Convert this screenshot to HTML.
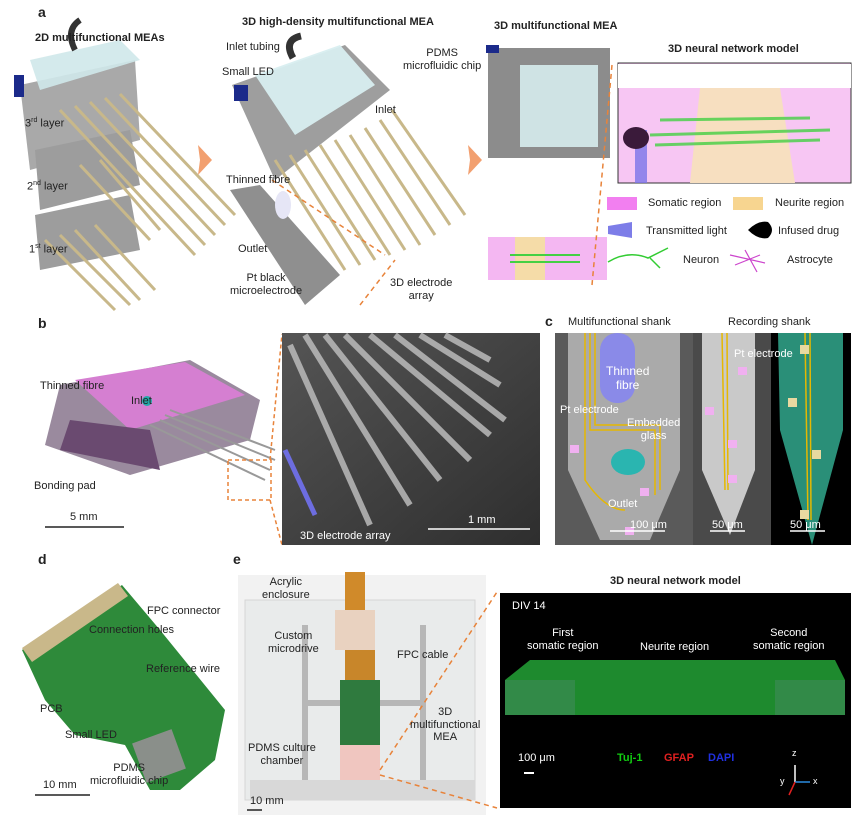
<!DOCTYPE html>
<html><head><meta charset="utf-8"><style>
body{margin:0;background:#fff;}
#r{position:relative;width:859px;height:819px;overflow:hidden;font-family:"Liberation Sans",Arial,sans-serif;color:#222;}
.t{position:absolute;font-size:11px;white-space:nowrap;line-height:1.15;}
.b{font-weight:bold;}
.L{position:absolute;font-weight:bold;font-size:14px;}
</style></head><body><div id="r">
<svg width="859" height="819" style="position:absolute;left:0;top:0">
<defs>
<linearGradient id="sh" x1="0" x2="1"><stop offset="0" stop-color="#8a7a5a"/><stop offset=".5" stop-color="#d8c9a0"/><stop offset="1" stop-color="#8a7a5a"/></linearGradient>
<linearGradient id="sem" x1="0" y1="0" x2="1" y2="1"><stop offset="0" stop-color="#555"/><stop offset="1" stop-color="#2e2e2e"/></linearGradient>
</defs>
<g>
<polygon points="20,85 135,60 140,140 30,170" fill="#a9a9a9"/>
<polygon points="30,60 120,40 140,60 40,90" fill="#cfe8ea" opacity=".9"/>
<rect x="14" y="75" width="10" height="22" fill="#1b2a8a"/>
<polygon points="35,150 130,130 140,185 40,210" fill="#9d9d9d"/>
<polygon points="35,215 130,195 140,250 40,270" fill="#9d9d9d"/>
<g stroke="#c8b88a" stroke-width="3">
<line x1="60" y1="110" x2="195" y2="255"/><line x1="75" y1="106" x2="205" y2="245"/><line x1="90" y1="102" x2="215" y2="235"/><line x1="105" y1="98" x2="225" y2="225"/><line x1="120" y1="94" x2="235" y2="215"/>
<line x1="45" y1="240" x2="115" y2="310"/><line x1="60" y1="235" x2="130" y2="305"/><line x1="75" y1="230" x2="140" y2="300"/><line x1="95" y1="225" x2="155" y2="290"/>
<line x1="80" y1="165" x2="150" y2="240"/><line x1="100" y1="160" x2="160" y2="230"/>
</g>
<path d="M75 50 q-10 -20 5 -30" stroke="#333" stroke-width="6" fill="none"/>
</g>
<polygon points="198,145 212,160 198,175 200,160" fill="#f2a070"/>
<g>
<polygon points="232,85 345,45 390,90 275,180" fill="#9e9e9e"/>
<polygon points="255,75 340,45 375,85 295,135" fill="#d8eef0" opacity=".95"/>
<rect x="234" y="85" width="14" height="16" fill="#1b2a8a"/>
<g stroke="#c8b88a" stroke-width="3">
<line x1="275" y1="160" x2="345" y2="270"/><line x1="290" y1="155" x2="360" y2="265"/><line x1="305" y1="150" x2="375" y2="260"/><line x1="320" y1="145" x2="390" y2="255"/><line x1="335" y1="140" x2="405" y2="250"/><line x1="350" y1="135" x2="420" y2="245"/><line x1="365" y1="128" x2="435" y2="235"/><line x1="380" y1="120" x2="450" y2="225"/><line x1="392" y1="110" x2="465" y2="215"/>
</g>
<path d="M293 58 q-10 -18 8 -22" stroke="#333" stroke-width="7" fill="none"/>
<polygon points="230,190 260,185 340,275 305,305" fill="#8f8f8f"/>
<ellipse cx="283" cy="205" rx="8" ry="14" fill="#e6e6f6"/>
</g>
<polygon points="468,145 482,160 468,175 470,160" fill="#f2a070"/>
<line x1="272" y1="180" x2="385" y2="255" stroke="#e8833a" stroke-dasharray="5,4" stroke-width="1.5"/>
<line x1="360" y1="305" x2="395" y2="260" stroke="#e8833a" stroke-dasharray="5,4" stroke-width="1.5"/>
<rect x="488" y="48" width="122" height="110" fill="#8c8c8c"/>
<rect x="520" y="65" width="78" height="82" fill="#cfe3e4"/>
<rect x="486" y="45" width="13" height="8" fill="#1b2a8a"/>
<rect x="488" y="237" width="27" height="43" fill="#f4b7f2"/><rect x="515" y="237" width="30" height="43" fill="#f5dca8"/><rect x="545" y="237" width="62" height="43" fill="#f4b7f2"/>
<g stroke="url(#sh)" stroke-width="5" opacity=".9"><line x1="505" y1="158" x2="505" y2="270"/><line x1="520" y1="158" x2="520" y2="270"/><line x1="535" y1="158" x2="535" y2="270"/><line x1="550" y1="158" x2="550" y2="270"/><line x1="565" y1="158" x2="565" y2="270"/><line x1="580" y1="158" x2="580" y2="270"/></g>
<g stroke="#44d044" stroke-width="2"><line x1="510" y1="255" x2="580" y2="255"/><line x1="510" y1="262" x2="580" y2="262"/></g>
<line x1="612" y1="65" x2="592" y2="285" stroke="#e8833a" stroke-dasharray="5,4" stroke-width="1.5"/>
<rect x="618" y="63" width="233" height="120" fill="#f7c6f3" stroke="#333"/>
<rect x="618" y="64" width="233" height="24" fill="#fff"/>
<polygon points="700,88 780,88 795,183 690,183" fill="#f7dfc0"/>
<g stroke="url(#sh)" stroke-width="6"><line x1="637" y1="64" x2="637" y2="145"/><line x1="660" y1="64" x2="660" y2="150"/><line x1="678" y1="64" x2="678" y2="150"/><line x1="715" y1="64" x2="715" y2="155"/><line x1="750" y1="64" x2="750" y2="155"/><line x1="775" y1="64" x2="775" y2="150"/><line x1="795" y1="64" x2="795" y2="150"/><line x1="812" y1="64" x2="812" y2="145"/><line x1="833" y1="64" x2="833" y2="150"/></g>
<rect x="635" y="130" width="12" height="53" fill="#7a74e8" opacity=".8"/>
<ellipse cx="636" cy="138" rx="13" ry="11" fill="#3a1a3a"/>
<g stroke="#44d044" stroke-width="3" opacity=".8"><line x1="650" y1="135" x2="830" y2="130"/><line x1="655" y1="145" x2="820" y2="140"/><line x1="660" y1="120" x2="810" y2="118"/></g>
<rect x="607" y="197" width="30" height="13" fill="#f27ff0"/><rect x="733" y="197" width="30" height="13" fill="#f7d590"/>
<polygon points="608,226 632,222 632,238 608,234" fill="#7d7de8"/>
<path d="M748 230 q10 -10 20 -8 q8 8 0 16 q-10 2 -20 -8z" fill="#000"/>
<path d="M608 262 q20 -12 40 -4 q10 -5 20 -10 M650 258 l10 10" stroke="#3c3" stroke-width="1.5" fill="none"/>
<path d="M735 265 l25 -10 M745 250 l12 22 M730 255 l35 8" stroke="#c4c" stroke-width="1.2" fill="none"/>
<polygon points="60,385 190,360 260,400 250,440 130,475 45,445" fill="#9a8a9e"/>
<polygon points="75,380 185,362 245,395 130,430" fill="#d57fd1"/>
<polygon points="70,420 150,430 160,470 60,450" fill="#6a4a70"/>
<g stroke="#999" stroke-width="2"><line x1="160" y1="420" x2="270" y2="470"/><line x1="165" y1="415" x2="275" y2="460"/><line x1="170" y1="410" x2="275" y2="450"/><line x1="150" y1="425" x2="265" y2="480"/></g>
<circle cx="147" cy="401" r="5" fill="#2aa"/>
<rect x="228" y="460" width="43" height="40" fill="none" stroke="#e8833a" stroke-dasharray="4,3" stroke-width="1.5"/>
<line x1="270" y1="460" x2="282" y2="334" stroke="#e8833a" stroke-dasharray="4,3" stroke-width="1.5"/>
<line x1="270" y1="500" x2="282" y2="545" stroke="#e8833a" stroke-dasharray="4,3" stroke-width="1.5"/>
<line x1="45" y1="527" x2="124" y2="527" stroke="#222" stroke-width="1.5"/>
<rect x="282" y="333" width="258" height="212" fill="url(#sem)"/>
<g stroke="#bbb" stroke-width="6" opacity=".85"><line x1="290" y1="345" x2="370" y2="525"/><line x1="305" y1="335" x2="410" y2="505"/><line x1="325" y1="335" x2="440" y2="480"/><line x1="345" y1="335" x2="470" y2="460"/><line x1="370" y1="335" x2="490" y2="435"/><line x1="395" y1="335" x2="505" y2="420"/><line x1="420" y1="335" x2="500" y2="385"/><line x1="445" y1="335" x2="490" y2="360"/></g>
<line x1="285" y1="450" x2="315" y2="515" stroke="#6d6de0" stroke-width="5"/>
<line x1="428" y1="529" x2="530" y2="529" stroke="#fff" stroke-width="1.5"/>
<rect x="555" y="333" width="138" height="212" fill="#5a5a5a"/>
<polygon points="568,333 680,333 680,470 650,540 600,540 568,470" fill="#aaa"/>
<rect x="600" y="333" width="35" height="70" rx="17" fill="#8a8ae8"/>
<g stroke="#e6b800" stroke-width="1.5" fill="none"><path d="M590 333 V430 H655 V495"/><path d="M595 333 V425 H660 V490"/><path d="M585 333 V480 q20 30 40 30"/></g>
<ellipse cx="628" cy="462" rx="17" ry="13" fill="#2ab5b0"/>
<rect x="693" y="333" width="78" height="212" fill="#4a4a4a"/>
<polygon points="702,333 755,333 755,470 730,535 702,470" fill="#c9c9c9"/>
<rect x="771" y="333" width="80" height="212" fill="#000"/>
<polygon points="778,333 843,333 843,430 812,545 780,430" fill="#2a8f78"/>
<g stroke="#e6b800" stroke-width="1.5"><line x1="805" y1="333" x2="808" y2="520"/><line x1="810" y1="333" x2="811" y2="520"/><line x1="722" y1="333" x2="725" y2="490"/><line x1="727" y1="333" x2="728" y2="490"/></g>
<g fill="#f0b0f0"><rect x="570" y="445" width="9" height="8"/><rect x="625" y="527" width="9" height="8"/><rect x="640" y="488" width="9" height="8"/><rect x="705" y="407" width="9" height="8"/><rect x="738" y="367" width="9" height="8"/><rect x="728" y="440" width="9" height="8"/><rect x="728" y="475" width="9" height="8"/></g>
<g fill="#e8d9a0"><rect x="800" y="345" width="9" height="9"/><rect x="788" y="398" width="9" height="9"/><rect x="812" y="450" width="9" height="9"/><rect x="800" y="510" width="9" height="9"/></g>
<g stroke="#fff" stroke-width="1.5"><line x1="610" y1="531" x2="665" y2="531"/><line x1="710" y1="531" x2="745" y2="531"/><line x1="790" y1="531" x2="825" y2="531"/></g>
<polygon points="22,650 122,585 160,630 225,710 215,760 180,790 150,790 125,745 75,735 45,700" fill="#2e8a3a"/>
<polygon points="22,648 118,583 128,596 32,662" fill="#c9b88a"/>
<rect x="138" y="735" width="42" height="42" fill="#8a8f8a" transform="rotate(-20 159 756)"/>
<line x1="35" y1="795" x2="90" y2="795" stroke="#222" stroke-width="1.5"/>
<rect x="238" y="575" width="248" height="240" fill="#f2f2f2"/>
<rect x="245" y="600" width="230" height="200" fill="#e9ebeb" stroke="#d5d5d5"/>
<rect x="302" y="625" width="6" height="170" fill="#b7b7b7"/><rect x="420" y="625" width="6" height="170" fill="#b7b7b7"/>
<rect x="302" y="700" width="124" height="6" fill="#b7b7b7"/>
<rect x="345" y="572" width="20" height="40" fill="#d08a2a"/>
<rect x="335" y="610" width="40" height="40" fill="#e9d2c0"/>
<rect x="345" y="650" width="30" height="30" fill="#c8862a"/>
<rect x="340" y="680" width="40" height="65" fill="#2f7a3e"/>
<rect x="340" y="745" width="40" height="40" fill="#f0c6c0"/>
<rect x="250" y="780" width="225" height="20" fill="#d8d8d8"/>
<line x1="247" y1="810" x2="262" y2="810" stroke="#222" stroke-width="1.5"/>
<line x1="380" y1="770" x2="497" y2="592" stroke="#e8833a" stroke-dasharray="5,4" stroke-width="1.5"/>
<line x1="380" y1="775" x2="497" y2="808" stroke="#e8833a" stroke-dasharray="5,4" stroke-width="1.5"/>
<rect x="500" y="593" width="351" height="215" fill="#000"/>
<polygon points="530,660 835,660 845,680 845,715 505,715 505,680" fill="#1e8a2e"/>
<rect x="505" y="680" width="70" height="35" fill="#3f8a5a" opacity=".6"/><rect x="775" y="680" width="70" height="35" fill="#3f8a5a" opacity=".6"/>
<line x1="524" y1="773" x2="534" y2="773" stroke="#fff" stroke-width="2"/>
<g stroke-width="1.5"><line x1="795" y1="782" x2="795" y2="765" stroke="#fff"/><line x1="795" y1="782" x2="810" y2="782" stroke="#2a8ce0"/><line x1="795" y1="782" x2="789" y2="795" stroke="#e02020"/></g>
</svg>
<div class="L" style="left:38px;top:4px">a</div>
<div class="t b" style="left:35px;top:32px">2D multifunctional MEAs</div>
<div class="t b" style="left:242px;top:16px">3D high-density multifunctional MEA</div>
<div class="t b" style="left:494px;top:20px">3D multifunctional MEA</div>
<div class="t b" style="left:668px;top:43px">3D neural network model</div>
<div class="t" style="left:25px;top:117px">3<sup style="font-size:7px">rd</sup> layer</div>
<div class="t" style="left:27px;top:180px">2<sup style="font-size:7px">nd</sup> layer</div>
<div class="t" style="left:29px;top:243px">1<sup style="font-size:7px">st</sup> layer</div>
<div class="t" style="left:226px;top:41px">Inlet tubing</div>
<div class="t" style="left:222px;top:66px">Small LED</div>
<div class="t" style="left:403px;top:47px;text-align:center">PDMS<br>microfluidic chip</div>
<div class="t" style="left:375px;top:104px">Inlet</div>
<div class="t" style="left:226px;top:174px">Thinned fibre</div>
<div class="t" style="left:238px;top:243px">Outlet</div>
<div class="t" style="left:230px;top:272px;text-align:center">Pt black<br>microelectrode</div>
<div class="t" style="left:390px;top:277px;text-align:center">3D electrode<br>array</div>
<div class="t" style="left:648px;top:197px">Somatic region</div>
<div class="t" style="left:775px;top:197px">Neurite region</div>
<div class="t" style="left:646px;top:225px">Transmitted light</div>
<div class="t" style="left:778px;top:225px">Infused drug</div>
<div class="t" style="left:683px;top:254px">Neuron</div>
<div class="t" style="left:787px;top:254px">Astrocyte</div>
<div class="L" style="left:38px;top:315px">b</div>
<div class="t" style="left:40px;top:380px">Thinned fibre</div>
<div class="t" style="left:131px;top:395px">Inlet</div>
<div class="t" style="left:34px;top:480px">Bonding pad</div>
<div class="t" style="left:70px;top:511px">5 mm</div>
<div class="t" style="left:300px;top:530px;color:#fff">3D electrode array</div>
<div class="t" style="left:468px;top:514px;color:#fff">1 mm</div>
<div class="L" style="left:545px;top:313px">c</div>
<div class="t" style="left:568px;top:316px">Multifunctional shank</div>
<div class="t" style="left:728px;top:316px">Recording shank</div>
<div class="t" style="left:606px;top:365px;color:#fff;text-align:center;font-size:12px">Thinned<br>fibre</div>
<div class="t" style="left:560px;top:404px;color:#fff">Pt electrode</div>
<div class="t" style="left:627px;top:417px;color:#fff;text-align:center">Embedded<br>glass</div>
<div class="t" style="left:608px;top:498px;color:#fff">Outlet</div>
<div class="t" style="left:630px;top:519px;color:#fff">100 μm</div>
<div class="t" style="left:712px;top:519px;color:#fff">50 μm</div>
<div class="t" style="left:790px;top:519px;color:#fff">50 μm</div>
<div class="t" style="left:734px;top:348px;color:#fff">Pt electrode</div>
<div class="L" style="left:38px;top:551px">d</div>
<div class="t" style="left:147px;top:605px">FPC connector</div>
<div class="t" style="left:89px;top:624px">Connection holes</div>
<div class="t" style="left:146px;top:663px">Reference wire</div>
<div class="t" style="left:40px;top:703px">PCB</div>
<div class="t" style="left:65px;top:729px">Small LED</div>
<div class="t" style="left:90px;top:762px;text-align:center">PDMS<br>microfluidic chip</div>
<div class="t" style="left:43px;top:779px">10 mm</div>
<div class="L" style="left:233px;top:551px">e</div>
<div class="t" style="left:262px;top:576px;text-align:center">Acrylic<br>enclosure</div>
<div class="t" style="left:268px;top:630px;text-align:center">Custom<br>microdrive</div>
<div class="t" style="left:397px;top:649px">FPC cable</div>
<div class="t" style="left:410px;top:706px;text-align:center">3D<br>multifunctional<br>MEA</div>
<div class="t" style="left:248px;top:742px;text-align:center">PDMS culture<br>chamber</div>
<div class="t" style="left:250px;top:795px">10 mm</div>
<div class="t b" style="left:610px;top:575px">3D neural network model</div>
<div class="t" style="left:512px;top:600px;color:#fff">DIV 14</div>
<div class="t" style="left:527px;top:627px;color:#fff;text-align:center">First<br>somatic region</div>
<div class="t" style="left:640px;top:641px;color:#fff">Neurite region</div>
<div class="t" style="left:753px;top:627px;color:#fff;text-align:center">Second<br>somatic region</div>
<div class="t" style="left:518px;top:752px;color:#fff">100 μm</div>
<div class="t b" style="left:617px;top:752px;color:#1c1">Tuj-1</div>
<div class="t b" style="left:664px;top:752px;color:#e02020">GFAP</div>
<div class="t b" style="left:708px;top:752px;color:#2030e0">DAPI</div>
<div class="t" style="left:792px;top:748px;color:#fff;font-size:9px">z</div>
<div class="t" style="left:813px;top:776px;color:#fff;font-size:9px">x</div>
<div class="t" style="left:780px;top:776px;color:#fff;font-size:9px">y</div>
</div></body></html>
